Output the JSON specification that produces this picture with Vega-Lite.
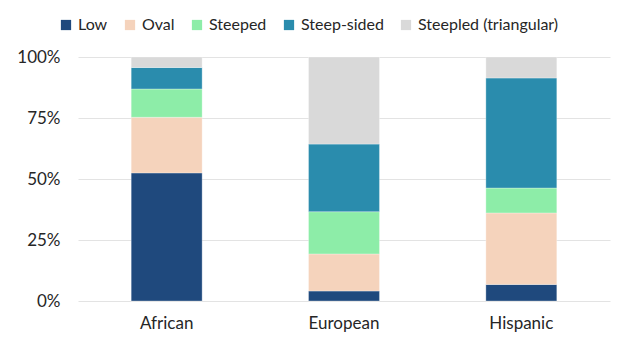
{
  "$schema": "https://vega.github.io/schema/vega-lite/v6.json",
  "width": 532,
  "height": 244,
  "autosize": {"type": "none"},
  "padding": {"left": 78, "top": 57, "right": 8, "bottom": 37},
  "background": "#ffffff",
  "config": {
    "view": {"stroke": null},
    "font": "Lato",
    "axis": {"labelFont": "Lato", "labelFontSize": 17, "labelColor": "#262626"},
    "legend": {"labelFont": "Lato", "labelFontSize": 16, "labelColor": "#262626"}
  },
  "data": {
    "values": [
      {"group": "African", "shape": "Low", "k": 1, "value": 52.5},
      {"group": "African", "shape": "Oval", "k": 2, "value": 22.8},
      {"group": "African", "shape": "Steeped", "k": 3, "value": 11.6},
      {"group": "African", "shape": "Steep-sided", "k": 4, "value": 8.8},
      {"group": "African", "shape": "Steepled (triangular)", "k": 5, "value": 4.3},
      {"group": "European", "shape": "Low", "k": 1, "value": 4.1},
      {"group": "European", "shape": "Oval", "k": 2, "value": 15.2},
      {"group": "European", "shape": "Steeped", "k": 3, "value": 17.3},
      {"group": "European", "shape": "Steep-sided", "k": 4, "value": 27.7},
      {"group": "European", "shape": "Steepled (triangular)", "k": 5, "value": 35.7},
      {"group": "Hispanic", "shape": "Low", "k": 1, "value": 6.8},
      {"group": "Hispanic", "shape": "Oval", "k": 2, "value": 29.3},
      {"group": "Hispanic", "shape": "Steeped", "k": 3, "value": 10.2},
      {"group": "Hispanic", "shape": "Steep-sided", "k": 4, "value": 45.1},
      {"group": "Hispanic", "shape": "Steepled (triangular)", "k": 5, "value": 8.6}
    ]
  },
  "mark": {"type": "bar", "stroke": "#ffffff", "strokeWidth": 0.6, "strokeOpacity": 0.5},
  "encoding": {
    "x": {
      "field": "group",
      "type": "nominal",
      "sort": ["African", "European", "Hispanic"],
      "scale": {"paddingInner": 0.6, "paddingOuter": 0.3},
      "axis": {"title": null, "labelAngle": 0, "domain": false, "ticks": false, "labelPadding": 14}
    },
    "y": {
      "field": "value",
      "type": "quantitative",
      "stack": "normalize",
      "scale": {"domain": [0, 1]},
      "axis": {
        "title": null,
        "format": ".0%",
        "values": [0, 0.25, 0.5, 0.75, 1],
        "domain": false,
        "ticks": false,
        "labelPadding": 18,
        "gridColor": "#e3e3e3",
        "gridWidth": 1.2
      }
    },
    "color": {
      "field": "shape",
      "type": "nominal",
      "scale": {
        "domain": ["Low", "Oval", "Steeped", "Steep-sided", "Steepled (triangular)"],
        "range": ["#1F497D", "#F5D3BC", "#8DEDA8", "#2A8CAD", "#D9D9D9"]
      },
      "legend": {
        "title": null,
        "orient": "none",
        "direction": "horizontal",
        "legendX": -20,
        "legendY": -40,
        "symbolType": "square",
        "symbolSize": 105,
        "symbolStrokeWidth": 0,
        "columnPadding": 14,
        "labelOffset": 4
      }
    },
    "order": {"field": "k", "type": "quantitative"}
  }
}
